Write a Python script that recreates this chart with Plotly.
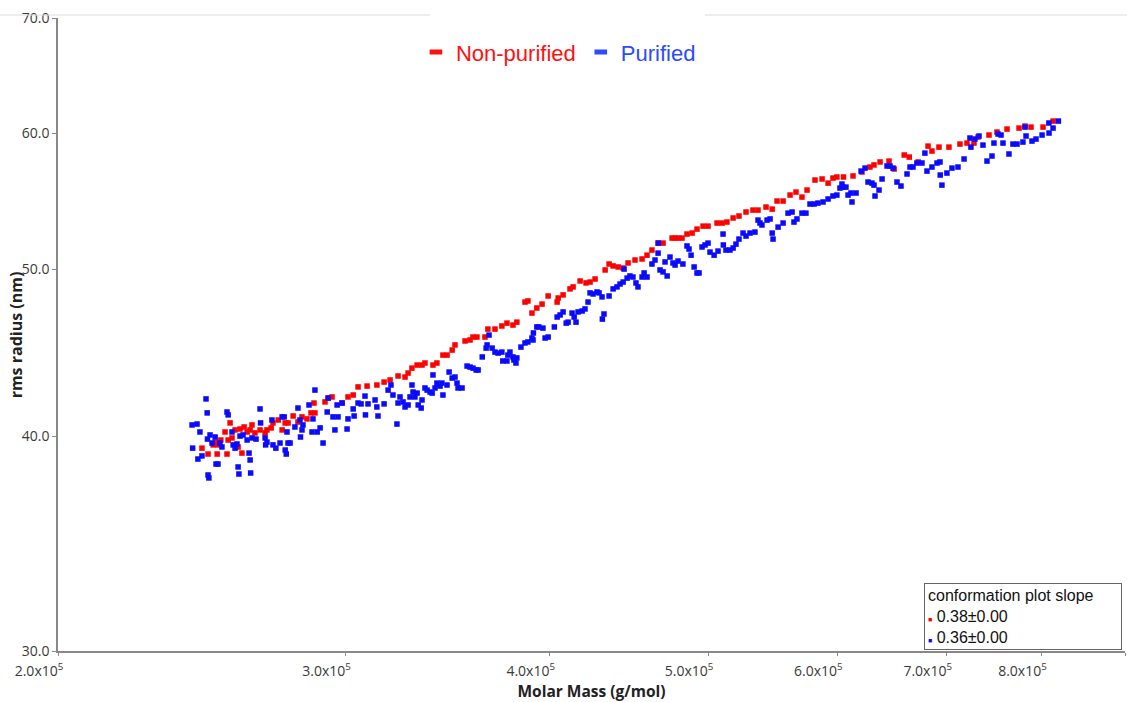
import plotly.graph_objects as go

# ---------------- data (molar mass in 10^3 g/mol, rms radius in nm) ----------------
nonpurified_mass_k = [
    245.0, 247.1, 248.9, 249.6, 250.3, 250.6, 251.6, 253.1, 253.8, 254.2,
    254.9, 255.6, 256.7, 257.8, 258.5, 259.2, 260.0, 261.1, 262.2, 262.9,
    264.0, 265.9, 267.8, 268.5, 270.1, 270.8, 272.8, 274.3, 275.5, 276.6,
    278.6, 280.5, 282.1, 284.1, 285.7, 286.9, 287.3, 291.4, 292.7, 294.3,
    298.5, 301.0, 303.2, 305.3, 309.2, 313.5, 316.7, 319.4, 323.0,
    326.2, 327.6, 329.4, 331.8, 334.1, 335.5, 339.3, 341.2, 344.1, 346.1,
    348.6, 350.0, 355.0, 357.5, 359.0, 361.0, 365.1, 366.6, 370.3, 373.9,
    376.6, 379.8, 381.9, 386.3, 387.9, 390.1, 392.8, 395.7, 399.1, 404.2,
    404.8, 407.6, 411.6, 413.4, 417.5, 421.0, 423.4, 426.4, 432.5, 434.9,
    437.4, 440.5, 443.6, 446.7,
    451.1, 455.6, 458.8, 462.0, 466.0, 469.3, 475.3, 477.3, 479.3, 482.0,
    485.4, 488.9, 492.3, 496.5, 500.0, 506.4, 510.0, 513.5, 518.0, 522.3,
    527.5, 532.7, 536.5, 542.6, 547.3, 551.1, 555.8, 561.3, 566.0, 570.8,
    574.9, 581.4, 587.2, 592.2, 596.3, 599.6,
    605.2, 613.4, 621.2, 628.2, 631.8, 637.2, 645.3, 650.0, 659.3, 664.0,
    672.4, 681.8, 685.6, 692.4, 702.2, 713.2, 720.3, 727.4, 731.6, 743.0,
    751.4, 762.1, 775.1, 781.7, 788.3, 801.8, 813.2,
]
nonpurified_radius = [
    39.36, 39.05, 39.53, 39.68, 39.05, 39.53, 39.79, 40.22, 39.05, 39.79,
    40.71, 39.90, 40.33, 39.42, 40.38, 39.10, 40.49, 40.22, 40.33, 40.60,
    40.17, 40.33, 40.17, 40.33, 40.44, 40.71, 40.87, 40.33, 40.71, 40.71,
    41.09, 40.76, 41.04, 40.93, 41.26, 41.81, 41.26, 41.87, 42.09, 42.15,
    41.81, 42.15, 42.26, 42.72, 42.77, 42.83, 43.00, 43.12, 43.35,
    43.29, 43.52, 43.81, 43.99, 43.99, 44.11, 43.99, 44.11, 44.58, 44.58,
    44.88, 45.19, 45.43, 45.49, 45.67, 45.67, 45.67, 46.16, 46.16, 46.35,
    46.53, 46.41, 46.59, 47.86, 47.93, 47.16, 47.48, 47.73, 48.25, 47.86,
    48.12, 48.32, 48.71, 48.84, 49.23, 49.10, 49.16, 49.36, 49.96, 50.36,
    50.23, 50.16, 50.09, 50.43,
    50.63, 50.70, 50.96, 51.31, 51.79, 51.79, 52.14, 52.14, 52.14, 52.14,
    52.42, 52.49, 52.77, 52.98, 52.98, 53.20, 53.20, 53.27, 53.56, 53.70,
    53.99, 54.13, 54.13, 54.35, 54.20, 54.79, 54.79, 55.23, 55.45, 55.08,
    55.60, 56.35, 56.43, 56.12, 56.50, 56.58,
    56.58, 56.66, 56.96, 57.34, 57.50, 57.73, 57.80, 57.19, 58.27, 58.11,
    57.73, 58.97, 58.58, 58.89, 58.89, 59.13, 59.21, 59.21, 59.69, 59.85,
    60.09, 60.33, 60.41, 60.57, 60.49, 60.49, 60.98,
]

purified_mass_k = [
    241.6, 243.3, 241.8, 243.6, 244.3, 245.0, 246.4, 246.8, 246.9, 247.1,
    247.4, 247.8, 248.5, 249.6, 249.9, 250.6, 251.3, 252.0, 253.8, 254.2,
    255.6, 256.0, 256.7, 257.4, 257.8, 258.1, 258.5, 259.6, 261.1, 261.8,
    262.2, 262.4, 262.9, 264.4, 265.9, 266.1, 267.8, 268.0, 268.5, 270.4,
    270.8, 271.9, 273.5, 274.3, 275.1, 275.5, 275.9, 276.2, 276.6, 277.4,
    279.3, 280.5, 281.3, 281.5, 282.1, 282.5, 284.9, 286.1, 286.5, 287.3,
    288.2, 289.4, 290.6, 292.3, 292.7, 294.7, 295.5, 296.4, 296.8, 298.5,
    300.6, 301.0, 303.2, 303.6, 305.3, 306.6, 308.3, 308.5, 309.6, 312.7,
    313.5, 314.0, 316.7, 318.5, 319.8, 320.7, 322.5, 323.0, 325.3,
    323.9, 326.2, 327.6, 328.5, 329.4, 329.9, 330.8, 331.8, 332.3, 333.7,
    334.1, 335.5, 336.5, 337.9, 338.9, 339.3, 340.3, 341.2, 342.7, 343.6,
    344.1, 346.1, 347.1, 348.6, 350.0, 351.0, 351.5, 353.5, 356.0, 357.5,
    359.0, 360.6, 361.6, 363.7, 365.7, 366.2, 367.2, 368.8, 370.3, 371.9,
    373.9, 374.4, 376.6, 377.1, 378.2, 379.8, 380.3, 381.4, 381.9, 384.1,
    386.3, 387.9, 390.1, 390.7, 390.9, 392.8, 393.9, 396.2, 397.4, 399.1,
    402.6, 404.2, 405.9, 407.6, 409.4, 410.5, 412.8, 414.0, 415.1, 416.3,
    418.7, 420.4, 422.2, 423.4, 425.2, 427.6, 428.8, 430.6, 430.8, 431.8,
    434.9, 437.4, 439.8, 441.7, 443.6, 446.1, 447.9,
    444.2, 449.8, 451.7, 453.0, 455.6, 456.9, 458.8, 462.0, 464.0, 466.0,
    466.2, 467.3, 469.3, 470.6, 472.0, 473.9, 475.9, 477.3, 479.3, 482.6,
    485.4, 486.8, 488.2, 490.3, 492.3, 493.7, 495.8, 497.9, 500.0, 501.4,
    504.3, 507.1, 510.7, 510.9, 512.8, 515.7, 518.0, 520.1, 522.3, 525.3,
    527.5, 530.5, 534.2, 536.5, 538.0, 539.5, 543.4, 545.7, 547.3, 548.0,
    551.9, 555.8, 559.7, 562.9, 564.4, 566.8, 570.8, 574.0, 577.3, 580.6,
    583.8, 588.0, 592.2, 596.3, 599.6,
    602.2, 603.9, 604.7, 607.3, 609.1, 611.6, 612.5, 616.0, 620.4, 623.9,
    626.5, 630.0, 631.8, 632.7, 636.3, 639.0, 643.5, 646.2, 649.0, 652.6,
    656.3, 661.9, 664.7, 667.5, 671.2, 676.0, 678.8, 680.8, 685.6, 690.5,
    693.4, 693.6, 695.3, 700.2, 705.2, 711.2, 717.3, 723.3, 724.3, 728.4,
    732.6, 736.7, 740.9, 746.1, 748.2, 752.5, 755.7, 757.8, 764.2, 768.5,
    772.9, 779.4, 781.7, 782.8, 789.4, 793.9, 800.7, 808.4, 808.6, 813.2,
    819.3,
]
purified_radius = [
    40.60, 40.65, 39.36, 38.79, 40.22, 38.95, 42.04, 41.26, 39.84, 37.97,
    37.82, 40.06, 39.63, 39.95, 38.53, 38.53, 39.63, 39.42, 41.31, 41.15,
    40.22, 39.53, 39.36, 39.58, 38.38, 38.02, 40.00, 40.06, 39.79, 39.10,
    38.74, 38.07, 39.90, 39.84, 41.48, 40.71, 39.90, 39.53, 39.68, 40.87,
    39.53, 39.36, 39.63, 41.04, 41.04, 39.26, 39.05, 40.22, 39.63, 39.63,
    40.49, 41.53, 40.87, 39.95, 40.33, 40.60, 41.70, 40.22, 40.93, 42.54,
    40.22, 40.44, 39.63, 41.31, 42.09, 41.04, 40.33, 41.70, 41.04, 41.81,
    40.38, 40.93, 41.48, 41.09, 41.81, 41.76, 42.20, 41.15, 41.76, 41.98,
    41.59, 41.09, 41.76, 42.54, 42.83, 42.26, 40.65, 41.81, 41.87,
    42.15, 41.59, 41.70, 42.15, 42.83, 42.43, 42.15, 42.37, 41.70, 41.53,
    41.98, 42.66, 42.54, 42.43, 42.37, 43.41, 42.66, 42.94, 42.77, 42.94,
    42.26, 42.83, 43.58, 43.23, 43.29, 42.94, 42.66, 42.66, 43.93, 43.87,
    43.81, 43.70, 43.70, 44.47, 45.00, 45.19, 45.79, 45.00, 44.76, 44.70,
    44.76, 44.23, 44.23, 44.58, 44.76, 44.47, 44.29, 44.11, 44.41, 45.06,
    45.31, 45.37, 45.61, 45.49, 45.92, 46.29, 46.29, 46.22, 45.61, 45.67,
    46.29, 46.91, 47.04, 47.23, 46.53, 46.59, 47.16, 46.91, 46.59, 47.23,
    47.29, 47.42, 47.86, 48.45, 48.38, 48.51, 48.45, 48.19, 46.78, 47.10,
    48.25, 48.71, 48.84, 49.03, 49.16, 49.42, 49.56,
    50.02, 49.49, 49.10, 48.84, 49.49, 49.76, 49.49, 50.36, 50.63, 51.10,
    51.79, 49.96, 49.83, 50.50, 49.56, 50.83, 50.43, 50.29, 50.56, 50.36,
    51.59, 51.38, 50.96, 50.16, 49.76, 49.76, 51.52, 51.66, 51.79, 51.17,
    50.96, 51.24, 52.42, 51.66, 51.31, 51.31, 51.45, 51.72, 52.07, 52.49,
    52.28, 52.49, 52.56, 53.41, 53.20, 53.06, 53.41, 53.49, 52.49, 52.07,
    52.91, 53.20, 53.91, 53.99, 53.27, 53.49, 53.91, 53.91, 54.57, 54.57,
    54.64, 54.72, 54.94, 55.16, 55.23,
    55.75, 56.05, 55.82, 55.82, 55.23, 55.38, 54.72, 55.38, 57.03, 57.26,
    56.20, 56.12, 55.97, 55.16, 55.60, 56.43, 57.42, 57.42, 57.26, 56.20,
    55.90, 56.81, 57.34, 57.34, 57.65, 57.65, 58.42, 57.03, 57.34, 57.65,
    57.73, 56.73, 55.97, 56.88, 57.26, 57.34, 57.96, 59.61, 58.89, 59.53,
    59.77, 59.05, 57.80, 58.19, 59.21, 59.93, 59.85, 59.21, 58.35, 59.13,
    59.13, 59.29, 60.49, 59.77, 59.37, 59.53, 59.85, 60.82, 60.01, 60.41,
    60.98,
]

series_names = ["Non-purified", "Purified"]
slope_labels = ["0.38±0.00", "0.36±0.00"]
slope_title = "conformation plot slope"
x_title = "Molar Mass (g/mol)"
y_title = "rms radius (nm)"

x_tick_vals = [2e5, 3e5, 4e5, 5e5, 6e5, 7e5, 8e5, 9e5]
x_tick_text = ["2.0x10<sup>5</sup>", "3.0x10<sup>5</sup>", "4.0x10<sup>5</sup>", "5.0x10<sup>5</sup>",
               "6.0x10<sup>5</sup>", "7.0x10<sup>5</sup>", "8.0x10<sup>5</sup>", "9.0x10<sup>5</sup>"]
y_tick_vals = [30, 40, 50, 60, 70]
y_tick_text = ["30.0", "40.0", "50.0", "60.0", "70.0"]

RED = "#ff0000"
BLUE = "#0a0aff"
LEG_RED = "#ff1010"
LEG_BLUE = "#2a4bff"

fig = go.Figure()

fig.add_trace(go.Scatter(
    x=[v * 1000 for v in nonpurified_mass_k], y=nonpurified_radius,
    mode="markers", marker=dict(symbol="square", size=5.5, color=RED, line=dict(width=0)),
    showlegend=False))
fig.add_trace(go.Scatter(
    x=[v * 1000 for v in purified_mass_k], y=purified_radius,
    mode="markers", marker=dict(symbol="square", size=5.5, color=BLUE, line=dict(width=0)),
    showlegend=False))

# legend-only entries (rectangular swatches, coloured text)
for name, col in zip(series_names, [LEG_RED, LEG_BLUE]):
    fig.add_trace(go.Scatter(
        x=[None], y=[None], mode="markers",
        marker=dict(symbol="line-ew", size=9, line=dict(width=5, color=col)),
        name=f"<span style='color:{col}'>{name}</span>", showlegend=True))

# slope box
slope_lines = [slope_title]
for lab, col in zip(slope_labels, [RED, BLUE]):
    slope_lines.append(f"<span style='color:{col};font-size:7px'>■</span> {lab}")

fig.add_annotation(
    xref="paper", yref="paper", x=0.9972, y=0.0016, xanchor="right", yanchor="bottom",
    text="<br>".join(slope_lines), showarrow=False, align="left", width=190,
    font=dict(family="Liberation Sans, Arial", size=16, color="#111"),
    bgcolor="white", bordercolor="#666", borderwidth=1, borderpad=3)

# y-axis title placed close to the tick labels
fig.add_annotation(
    xref="paper", yref="paper", x=-0.0395, y=0.50, xanchor="center", yanchor="middle",
    text=f"<b>{y_title}</b>", textangle=-90, showarrow=False,
    font=dict(family="Open Sans", size=16, color="#222"))

# light top rule interrupted by legend area
for x0, x1 in [(-0.0544, 0.3486), (0.6064, 1.01)]:
    fig.add_shape(type="line", xref="paper", yref="paper", x0=x0, x1=x1, y0=1.0047, y1=1.0047,
                  line=dict(color="#dcdcdc", width=1))

axis_font = dict(family="Open Sans", size=14, color="#3a3a3a")
fig.update_xaxes(
    type="log", range=[5.30103, 5.95424], tickvals=x_tick_vals, ticktext=x_tick_text,
    ticks="outside", ticklen=3, tickcolor="#888", showline=True, linecolor="#888", linewidth=1.5,
    showgrid=False, zeroline=False, tickfont=axis_font, ticklabelshift=-19, ticklabelstandoff=3,
    title=dict(text=f"<b>{x_title}</b>", font=dict(family="Open Sans", size=15.5, color="#222"),
               standoff=4))
fig.update_yaxes(
    type="log", range=[1.477121, 1.845098], tickvals=y_tick_vals, ticktext=y_tick_text,
    ticks="outside", ticklen=4, tickcolor="#888", showline=True, linecolor="#888", linewidth=1.5,
    showgrid=False, zeroline=False, tickfont=axis_font)

fig.update_layout(
    width=1127, height=702, autosize=False,
    margin=dict(l=58, r=2, t=18, b=51),
    paper_bgcolor="white", plot_bgcolor="white",
    legend=dict(orientation="h", x=0.469, xanchor="center", y=0.946, yanchor="middle",
                font=dict(family="Liberation Sans, Arial", size=22), bgcolor="rgba(0,0,0,0)",
                itemwidth=30, tracegroupgap=0),
)

fig.write_html("out.html")
